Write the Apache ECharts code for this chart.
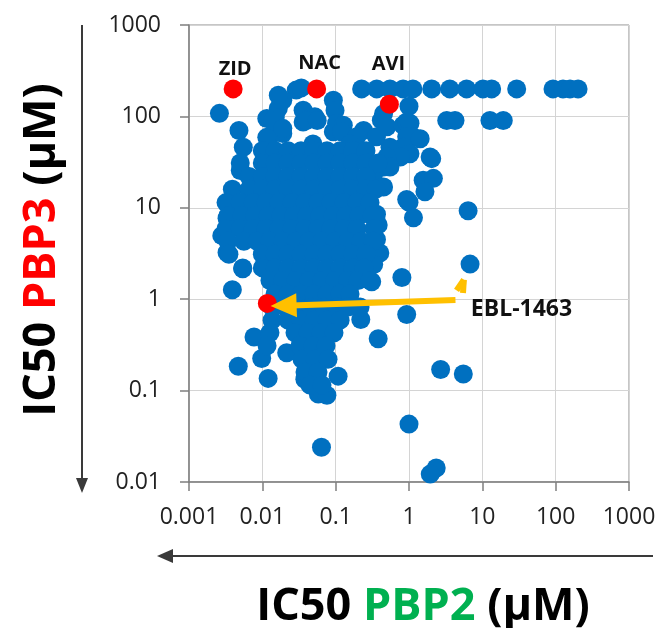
<!DOCTYPE html>
<html>
<head>
<meta charset="utf-8">
<script src="https://cdn.jsdelivr.net/npm/echarts@6/dist/echarts.min.js"></script>
<style>
  html, body { margin: 0; padding: 0; background: #fff; }
  #viz-ic50 { width: 664px; height: 628px; }
</style>
</head>
<body>
<div id="viz-ic50"></div>
<script>
// IC50 PBP2 (x) vs IC50 PBP3 (y), both in uM
const xTickLabels = ['0.001', '0.01', '0.1', '1', '10', '100', '1000'];
const yTickLabels = ['0.01', '0.1', '1', '10', '100', '1000'];

// flat row at the top of the assay range
const capped = [
  [0.226, 200], [0.363, 200], [0.55, 200], [0.83, 200], [1.13, 200], [2.04, 200],
  [3.6, 200], [6.1, 200], [10.2, 200], [13.4, 200], [29.4, 200], [92, 200],
  [126, 200], [157, 200], [202, 200], [0.029, 194], [0.034, 205],
  [3.27, 90], [4.24, 90], [12.7, 90], [19.3, 90]
];

// scattered compounds around the main cloud
const scattered = [
  [0.0026, 108], [0.0048, 70], [0.0055, 46], [0.005, 25.6],
  [0.019, 150], [0.0165, 122], [0.0165, 170], [0.0115, 95], [0.015, 98], [0.0127, 60], [0.019, 65],
  [0.0115, 59], [0.036, 117], [0.045, 95], [0.036, 87], [0.052, 99], [0.093, 150],
  [0.098, 116], [0.103, 84], [0.127, 80], [0.093, 68], [0.12, 68], [0.049, 50],
  [0.24, 70], [0.194, 60], [0.157, 50], [0.014, 90], [0.019, 74], [0.04, 90], [0.056, 90],
  [0.45, 107], [0.42, 91], [0.5, 77], [0.83, 80], [0.93, 87], [1.0, 129], [1.03, 84],
  [1.13, 60], [0.93, 60], [1.42, 57], [0.83, 46], [0.55, 46], [0.36, 60], [1.03, 39],
  [0.76, 36], [0.5, 36], [1.94, 36], [2.04, 34.5], [0.45, 28], [0.55, 27.9], [0.33, 23.5],
  [1.56, 20], [2.15, 21], [1.65, 15], [0.45, 16.9], [0.93, 12.3], [1.0, 11.5], [1.15, 7.8],
  [0.36, 8.5], [6.4, 9.3], [0.38, 6.5], [0.36, 4.5], [0.4, 3.2], [0.33, 2.4], [6.8, 2.42],
  [0.8, 1.73], [0.31, 1.55], [0.93, 0.68], [0.38, 0.37], [2.7, 0.17], [5.5, 0.152],
  [1.0, 0.043], [2.35, 0.0142], [1.95, 0.0122],
  [0.0028, 4.96], [0.0033, 3.25], [0.0039, 1.27], [0.0054, 2.15], [0.0038, 11], [0.0033, 7.7],
  [0.0047, 0.185], [0.0098, 0.225], [0.012, 0.136], [0.0077, 0.385], [0.0215, 0.26],
  [0.108, 0.144], [0.058, 0.092], [0.076, 0.089], [0.038, 0.133], [0.22, 0.6], [0.064, 0.024]
];

// dense cloud, read row by row (PBP3 value, PBP2 values)
const cloudRows = [
  [42, [0.01, 0.0149, 0.0224, 0.0337, 0.0507, 0.0762, 0.115, 0.172, 0.259]],
  [31, [0.005, 0.01, 0.0149, 0.0224, 0.0337, 0.0507, 0.0762, 0.115, 0.172, 0.259, 0.378]],
  [22, [0.0066, 0.01, 0.0149, 0.0224, 0.0337, 0.0507, 0.0762, 0.115, 0.172, 0.259]],
  [16, [0.0039, 0.0066, 0.01, 0.0149, 0.0224, 0.0337, 0.0507, 0.0762, 0.115, 0.172, 0.259, 0.355]],
  [11.4, [0.0032, 0.005, 0.0075, 0.0112, 0.0169, 0.0254, 0.0382, 0.0574, 0.0863, 0.13, 0.195, 0.294]],
  [8.2, [0.0034, 0.0053, 0.0079, 0.012, 0.018, 0.027, 0.0406, 0.0611, 0.092, 0.138, 0.208, 0.313]],
  [5.9, [0.0032, 0.005, 0.0075, 0.0112, 0.0169, 0.0254, 0.0382, 0.0574, 0.0863, 0.13, 0.195, 0.333]],
  [4.3, [0.0034, 0.0056, 0.0085, 0.0127, 0.0191, 0.0288, 0.0433, 0.0651, 0.098, 0.147, 0.222, 0.323]],
  [3.1, [0.0035, 0.01, 0.0149, 0.0224, 0.0337, 0.0507, 0.0762, 0.115, 0.172, 0.259]],
  [2.2, [0.0054, 0.01, 0.0149, 0.0224, 0.0337, 0.0507, 0.0762, 0.115, 0.172, 0.243]],
  [1.6, [0.0127, 0.0191, 0.0288, 0.0433, 0.0651, 0.098, 0.147, 0.202, 0.294]],
  [1.14, [0.0149, 0.0224, 0.0337, 0.0507, 0.0762, 0.115, 0.157]],
  [0.82, [0.0136, 0.0204, 0.0306, 0.0461, 0.0693, 0.104, 0.147, 0.215]],
  [0.59, [0.0136, 0.0224, 0.0337, 0.0507, 0.0762, 0.115]],
  [0.43, [0.0127, 0.0279, 0.042, 0.0631, 0.0949]],
  [0.31, [0.0116, 0.0327, 0.0491, 0.0738]],
  [0.22, [0.0348, 0.0523, 0.0787]],
  [0.16, [0.0382, 0.0574]],
  [0.115, [0.0447, 0.0651]]
];

// reference compounds highlighted in red
const refNames = ['ZID', 'NAC', 'AVI', 'EBL-1463'];
const refPBP2 = [0.004, 0.055, 0.54, 0.0117];
const refPBP3 = [200, 200, 136, 0.9];

// yellow callout arrow (from the label to EBL-1463); the head is centred on the end point
const arrowFrom = [4.3, 0.98];
const arrowTo = [0.0195, 0.85];

const cloud = [];
cloudRows.forEach(row => {
  row[1].forEach(x => cloud.push([x, row[0]]));
});
const bluePoints = capped.concat(scattered, cloud);

const labelStyles = {
  'ZID': { position: 'top', offset: [2, 5] },
  'NAC': { position: 'top', offset: [3, -1] },
  'AVI': { position: 'top', offset: [-1, -15] },
  'EBL-1463': { position: 'right', offset: [189, 6] }
};

const refData = refNames.map((name, i) => ({
  name: name,
  value: [refPBP2[i], refPBP3[i]],
  label: Object.assign({
    show: true,
    formatter: '{b}',
    fontFamily: 'Open Sans',
    fontWeight: 'bold',
    fontSize: name === 'EBL-1463' ? 23 : 20,
    color: '#111'
  }, labelStyles[name])
}));

const chart = echarts.init(document.getElementById('viz-ic50'));

const axisFont = { fontFamily: 'Open Sans', fontSize: 23, color: '#222' };

const option = {
  animation: false,
  backgroundColor: '#fff',
  grid: { left: 189, right: 35, top: 25, bottom: 146, show: true, borderColor: '#8c8c8c', borderWidth: 1 },
  xAxis: {
    type: 'log',
    logBase: 10,
    min: 0.001,
    max: 1000,
    axisLine: { show: true, lineStyle: { color: '#7f7f7f', width: 1.5 } },
    axisTick: { show: true, length: 9, lineStyle: { color: '#7f7f7f', width: 1.5 } },
    splitLine: { show: true, lineStyle: { color: '#d4d4d4', width: 1 } },
    minorTick: { show: false },
    axisLabel: Object.assign({
      margin: 24,
      formatter: v => xTickLabels[Math.round(Math.log10(v)) + 3]
    }, axisFont)
  },
  yAxis: {
    type: 'log',
    logBase: 10,
    min: 0.01,
    max: 1000,
    axisLine: { show: true, lineStyle: { color: '#7f7f7f', width: 1.5 } },
    axisTick: { show: true, length: 9, lineStyle: { color: '#7f7f7f', width: 1.5 } },
    splitLine: { show: true, lineStyle: { color: '#d4d4d4', width: 1 } },
    axisLabel: Object.assign({
      margin: 28,
      formatter: v => yTickLabels[Math.round(Math.log10(v)) + 2]
    }, axisFont)
  },
  series: [
    {
      name: 'Compounds',
      type: 'scatter',
      symbol: 'circle',
      symbolSize: 19,
      itemStyle: { color: '#0070C0', opacity: 1 },
      data: bluePoints,
      z: 2
    },
    {
      name: 'Reference',
      type: 'scatter',
      symbol: 'circle',
      symbolSize: 19,
      itemStyle: { color: '#FF0000', opacity: 1 },
      data: refData,
      z: 4,
      markLine: {
        silent: true,
        animation: false,
        symbol: ['none', 'triangle'],
        symbolSize: [24, 26],
        label: { show: false },
        lineStyle: { color: '#FFC000', width: 6, type: 'solid', opacity: 1 },
        data: [
          [
            { coord: arrowFrom, symbol: 'none' },
            { coord: arrowTo, symbol: 'triangle' }
          ],
          [
            { coord: [5.45, 1.17], symbol: 'none' },
            { coord: [5.6, 1.63], symbol: 'none' }
          ],
          [
            { coord: [4.45, 1.25], symbol: 'none' },
            { coord: [5.6, 1.63], symbol: 'none' }
          ]
        ]
      }
    }
  ],
  graphic: [
    {
      type: 'text',
      x: 42,
      y: 250,
      rotation: Math.PI / 2,
      style: {
        text: '{k|IC50 }{r|PBP3}{k| (µM)}',
        align: 'center',
        verticalAlign: 'middle',
        rich: {
          k: { fontFamily: 'Open Sans', fontWeight: 'bold', fontSize: 45, fill: '#000' },
          r: { fontFamily: 'Open Sans', fontWeight: 'bold', fontSize: 45, fill: '#FF0000' }
        }
      }
    },
    {
      type: 'text',
      x: 423,
      y: 607,
      style: {
        text: '{k|IC50 }{g|PBP2}{k| (µM)}',
        align: 'center',
        verticalAlign: 'middle',
        rich: {
          k: { fontFamily: 'Open Sans', fontWeight: 'bold', fontSize: 45, fill: '#000' },
          g: { fontFamily: 'Open Sans', fontWeight: 'bold', fontSize: 45, fill: '#00B050' }
        }
      }
    },
    // vertical arrow beside y title
    { type: 'line', shape: { x1: 82, y1: 25, x2: 82, y2: 480 }, style: { stroke: '#3a3a3a', lineWidth: 2 } },
    { type: 'polygon', shape: { points: [[76, 478], [88, 478], [82, 493]] }, style: { fill: '#3a3a3a' } },
    // horizontal arrow above x title
    { type: 'line', shape: { x1: 170, y1: 556, x2: 653, y2: 556 }, style: { stroke: '#3a3a3a', lineWidth: 2 } },
    { type: 'polygon', shape: { points: [[157, 556], [173, 549], [173, 563]] }, style: { fill: '#3a3a3a' } }
  ]
};

chart.setOption(option);
</script>
</body>
</html>
